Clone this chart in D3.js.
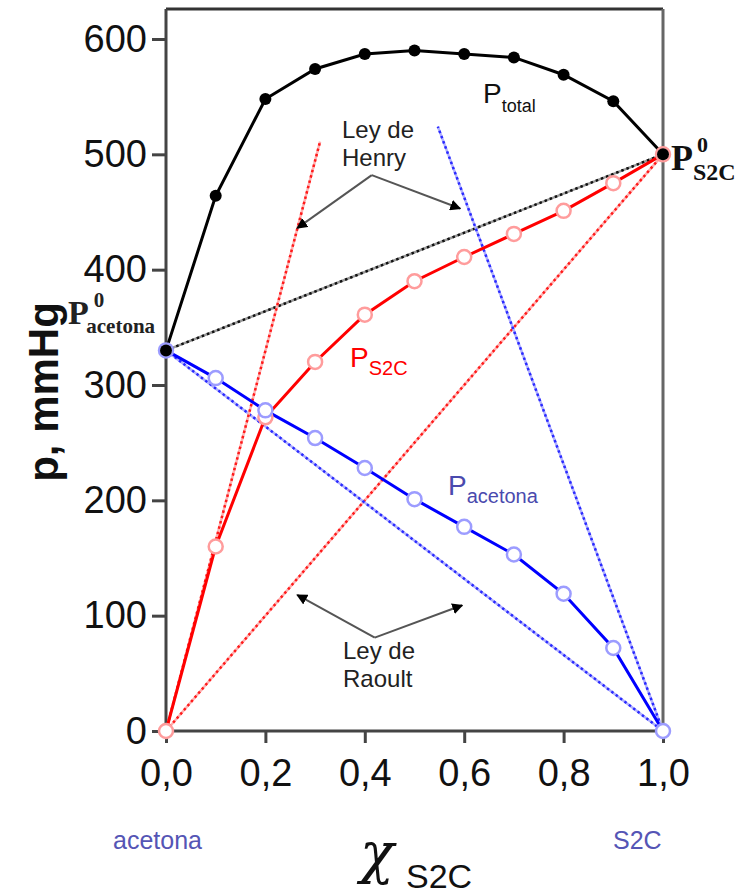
<!DOCTYPE html>
<html>
<head>
<meta charset="utf-8">
<script src="https://cdn.jsdelivr.net/npm/d3@7"></script>
<style>
body { margin: 0; background: #fff; }
svg { display: block; font-family: "Liberation Sans", Arial, sans-serif; }
</style>
</head>
<body>
<div id="chart"></div>
<script>
// mole fraction of S2C and vapour pressures (mmHg)
const fracS2C = [0, 0.1, 0.2, 0.3, 0.4, 0.5, 0.6, 0.7, 0.8, 0.9, 1.0];
const pTotal = [330, 464, 548, 574, 587, 590, 587, 584, 569, 546, 500];
const pS2C = [0, 160, 272, 320, 361, 390, 411, 431, 451, 475, 500];
const pAcetona = [330, 306, 278, 254, 228, 201, 177, 153, 119, 72, 0];

const xTicks = [0, 0.2, 0.4, 0.6, 0.8, 1.0];
const yTicks = [0, 100, 200, 300, 400, 500, 600];

// ideal (Raoult) and Henry straight lines, ends in data units
const raoultTotal = [[0, 330], [1, 500]];
const raoultS2C = [[0, 0], [1, 500]];
const raoultAcetona = [[0, 330], [1, 0]];
const henryS2C = [[0, 0], [0.31, 511]];
const henryAcetona = [[1, 0], [0.547, 524]];

// annotation arrows: apex -> targets (data units)
const henryArrows = { apex: [0.414, 482], ends: [[0.264, 436], [0.592, 453]] };
const raoultArrows = { apex: [0.42, 81], ends: [[0.264, 118], [0.596, 109]] };

const W = 752, H = 894;
const frameTop = 9;

const svg = d3.select("#chart").append("svg")
    .attr("width", W)
    .attr("height", H);

const x = d3.scaleLinear().domain([0, 1]).range([166, 663]);
const y = d3.scaleLinear().domain([0, 600]).range([731, 39]);

const line = d3.line().x(d => x(d[0])).y(d => y(d[1]));

// frame
svg.append("path")
    .attr("d", `M${x(0)},${frameTop}H${x(1)}`)
    .attr("stroke", "#333").attr("stroke-width", 3).attr("fill", "none");
svg.append("path")
    .attr("d", `M${x(1)},${frameTop}V${y(0)}`)
    .attr("stroke", "#666").attr("stroke-width", 3).attr("fill", "none");
svg.append("path")
    .attr("d", `M${x(0)},${frameTop}V${y(0)}H${x(1)}`)
    .attr("stroke", "#444").attr("stroke-width", 3).attr("fill", "none");

// axes
const yAxis = svg.append("g")
    .attr("transform", `translate(${x(0)},0)`)
    .call(d3.axisLeft(y).tickValues(yTicks).tickSize(14).tickPadding(5));
const xAxis = svg.append("g")
    .attr("transform", `translate(0,${y(0)})`)
    .call(d3.axisBottom(x).tickValues(xTicks).tickSize(12).tickPadding(16)
        .tickFormat(d => d.toFixed(1).replace(".", ",")));

[yAxis, xAxis].forEach(a => {
    a.select(".domain").remove();
    a.selectAll(".tick line").attr("stroke", "#444").attr("stroke-width", 3);
    a.selectAll(".tick text")
        .attr("fill", "#111")
        .style("font-family", "\"Liberation Sans\", Arial, sans-serif")
        .style("font-size", "38px");
});

// dotted straight lines: light underlay + dark dashes
function dotted(pts, light, dark) {
    svg.append("path").datum(pts).attr("d", line)
        .attr("fill", "none").attr("stroke", light).attr("stroke-width", 2.5);
    svg.append("path").datum(pts).attr("d", line)
        .attr("fill", "none").attr("stroke", dark).attr("stroke-width", 2.5)
        .attr("stroke-dasharray", "2.5,3");
}
dotted(raoultTotal, "#9a9a9a", "#111");
dotted(raoultS2C, "#ffb0b0", "#ff1a1a");
dotted(raoultAcetona, "#b0b0ff", "#2a2aff");
dotted(henryS2C, "#ffb0b0", "#ff1a1a");
dotted(henryAcetona, "#b0b0ff", "#2a2aff");

// solid curves
function series(vals) { return fracS2C.map((f, i) => [f, vals[i]]); }
svg.append("path").datum(series(pS2C)).attr("d", line)
    .attr("fill", "none").attr("stroke", "#ff0000").attr("stroke-width", 3);
svg.append("path").datum(series(pAcetona)).attr("d", line)
    .attr("fill", "none").attr("stroke", "#0000ff").attr("stroke-width", 3);
svg.append("path").datum(series(pTotal)).attr("d", line)
    .attr("fill", "none").attr("stroke", "#000").attr("stroke-width", 3);

// markers
svg.append("g").selectAll("circle")
    .data(series(pS2C)).enter().append("circle")
    .attr("cx", d => x(d[0])).attr("cy", d => y(d[1])).attr("r", 7)
    .attr("fill", "#fff").attr("stroke", "#ff9c9c").attr("stroke-width", 2.5);
svg.append("g").selectAll("circle")
    .data(series(pAcetona)).enter().append("circle")
    .attr("cx", d => x(d[0])).attr("cy", d => y(d[1])).attr("r", 7)
    .attr("fill", "#fff").attr("stroke", "#9c9cff").attr("stroke-width", 2.5);
svg.append("g").selectAll("circle")
    .data(series(pTotal)).enter().append("circle")
    .attr("cx", d => x(d[0])).attr("cy", d => y(d[1])).attr("r", 6)
    .attr("fill", "#000");

// arrows
svg.append("defs").append("marker")
    .attr("id", "arrow")
    .attr("viewBox", "0 0 10 10").attr("refX", 9).attr("refY", 5)
    .attr("markerWidth", 11).attr("markerHeight", 11)
    .attr("markerUnits", "userSpaceOnUse")
    .attr("orient", "auto")
    .append("path").attr("d", "M0,0L10,5L0,10z").attr("fill", "#000");

[henryArrows, raoultArrows].forEach(a => {
    a.ends.forEach(e => {
        svg.append("path").datum([a.apex, e]).attr("d", line)
            .attr("fill", "none").attr("stroke", "#555").attr("stroke-width", 2)
            .attr("marker-end", "url(#arrow)");
    });
});

// annotation text
function label(px, py, lines, size, color) {
    lines.forEach((t, i) => {
        svg.append("text").attr("x", px).attr("y", py + i * 28)
            .attr("font-size", size).attr("fill", color).text(t);
    });
}
label(342, 138, ["Ley de", "Henry"], 24, "#222");
label(343, 659, ["Ley de", "Raoult"], 24, "#222");

function subLabel(px, py, main, sub, mainSize, subSize, color, opts = {}) {
    const t = svg.append("text").attr("x", px).attr("y", py)
        .attr("fill", color)
        .style("font-family", opts.family || null)
        .attr("font-weight", opts.weight || null);
    t.append("tspan").attr("font-size", mainSize).text(main);
    if (opts.sup) {
        t.append("tspan").attr("font-size", opts.supSize).attr("dx", opts.supDx || 2)
            .attr("dy", opts.supDy).text(opts.sup);
        t.append("tspan").attr("font-size", subSize).attr("dx", opts.subDx)
            .attr("dy", opts.subDy).text(sub);
    } else {
        t.append("tspan").attr("font-size", subSize).attr("dy", opts.subDy || 7).text(sub);
    }
}
subLabel(483, 103, "P", "total", 28, 18, "#111", { subDy: 9, weight: null });
subLabel(350, 367, "P", "S2C", 28, 20, "#ff0000", { subDy: 8 });
subLabel(448, 495, "P", "acetona", 28, 20, "#4a4aae", { subDy: 8 });

const serif = "\"Liberation Serif\", \"Times New Roman\", serif";
subLabel(671, 170, "P", "S2C", 36, 24, "#111",
    { family: serif, weight: "bold", sup: "0", supSize: 22, supDx: 4, supDy: -18, subDx: -15, subDy: 28 });
subLabel(68, 324, "P", "acetona", 34, 21, "#222",
    { family: serif, weight: "bold", sup: "0", supSize: 21, supDx: 5, supDy: -17, subDx: -18, subDy: 26 });

// axis titles
svg.append("text")
    .attr("transform", "translate(58,392) rotate(-90)")
    .attr("text-anchor", "middle")
    .attr("font-size", 42).attr("font-weight", "bold").attr("fill", "#111")
    .text("p, mmHg");

svg.append("text").attr("x", 360).attr("y", 872)
    .style("font-family", "\"DejaVu Serif\", serif").style("font-style", "italic")
    .attr("font-size", 56).attr("fill", "#111")
    .text("χ");
svg.append("text").attr("x", 406).attr("y", 888)
    .attr("font-size", 34).attr("fill", "#111").text("S2C");

svg.append("text").attr("x", 113).attr("y", 849)
    .attr("font-size", 25).attr("fill", "#5555b5").text("acetona");
svg.append("text").attr("x", 613).attr("y", 849)
    .attr("font-size", 25).attr("fill", "#5555b5").text("S2C");
</script>
</body>
</html>
